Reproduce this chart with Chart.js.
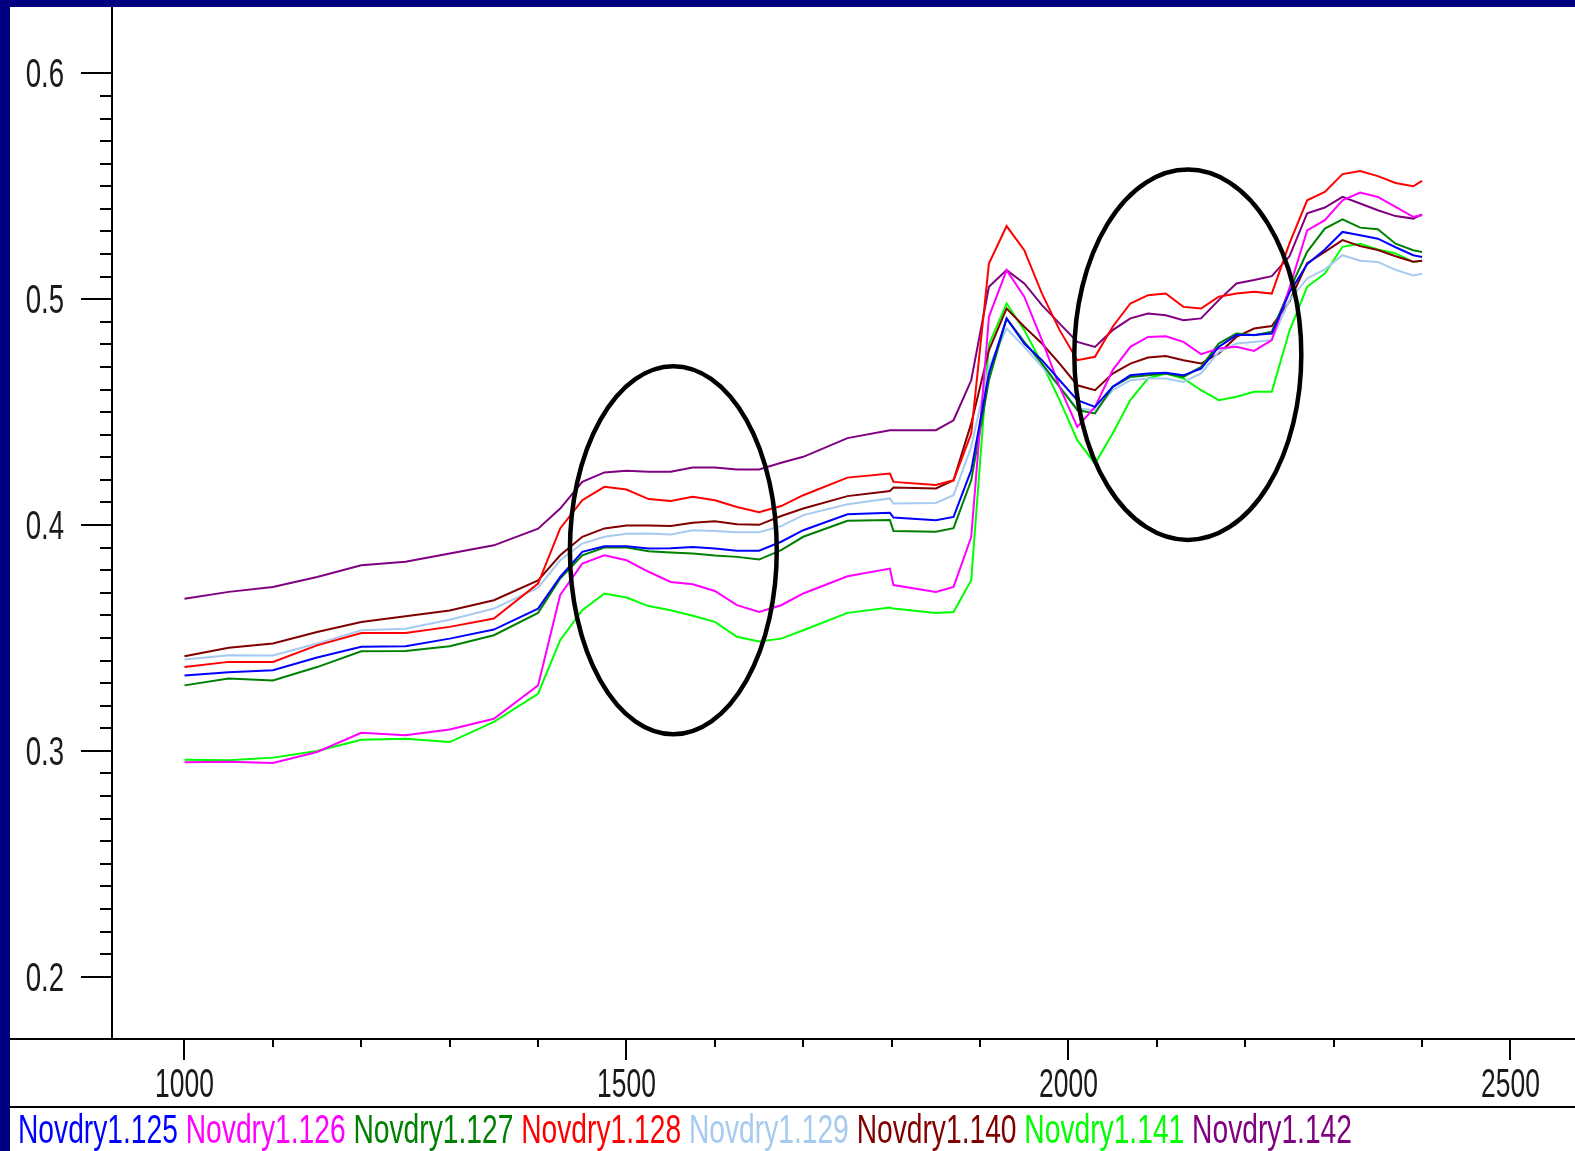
<!DOCTYPE html>
<html>
<head>
<meta charset="utf-8">
<title>Novdry spectra</title>
<script src="https://cdn.jsdelivr.net/npm/chart.js@4.4.1/dist/chart.umd.min.js"></script>
<style>
  html, body { margin: 0; padding: 0; width: 1575px; height: 1151px; overflow: hidden; background: #000080; }
  #wrap { position: absolute; left: 10px; top: 7px; width: 1565px; height: 1144px; background: #ffffff; }
</style>
</head>
<body>
<div id="wrap"><canvas id="chart"></canvas></div>
<script>
// wavelength (nm) shared by every spectrum
var wavelengths = [1000, 1050, 1100, 1150, 1200, 1250, 1300, 1350, 1400, 1425, 1450, 1475, 1500, 1525, 1550, 1575, 1600, 1625, 1650, 1675, 1700, 1750, 1798, 1802, 1850,
    1870, 1890, 1910, 1930, 1950, 1970, 1990, 2010, 2030, 2050, 2070, 2090, 2110, 2130, 2150, 2170, 2190, 2210, 2230, 2250, 2270, 2290, 2310, 2330, 2350, 2370, 2390, 2400];

var novdry125 = [0.3334, 0.3348, 0.3357, 0.3413, 0.3461, 0.3463, 0.3497, 0.3537, 0.3630, 0.3770, 0.3881, 0.3906, 0.3906, 0.3896, 0.3897, 0.3903, 0.3896, 0.3886, 0.3886, 0.3926, 0.3977, 0.4048, 0.4054, 0.4033, 0.4021,
    0.4036, 0.4243, 0.4671, 0.4915, 0.4804, 0.4730, 0.4641, 0.4553, 0.4523, 0.4612, 0.4663, 0.4671, 0.4674, 0.4663, 0.4693, 0.4789, 0.4841, 0.4841, 0.4848, 0.5030, 0.5155, 0.5220, 0.5298, 0.5283, 0.5268, 0.5230, 0.5195, 0.5187];
var novdry126 = [0.2950, 0.2952, 0.2946, 0.2995, 0.3080, 0.3069, 0.3095, 0.3142, 0.3290, 0.3690, 0.3829, 0.3866, 0.3844, 0.3793, 0.3748, 0.3738, 0.3708, 0.3645, 0.3615, 0.3645, 0.3697, 0.3773, 0.3807, 0.3734, 0.3704,
    0.3726, 0.3947, 0.4922, 0.5129, 0.5011, 0.4819, 0.4612, 0.4435, 0.4523, 0.4686, 0.4789, 0.4833, 0.4836, 0.4811, 0.4757, 0.4782, 0.4789, 0.4771, 0.4819, 0.5050, 0.5305, 0.5350, 0.5438, 0.5472, 0.5453, 0.5409, 0.5365, 0.5372];
var novdry127 = [0.3290, 0.3320, 0.3312, 0.3371, 0.3441, 0.3442, 0.3463, 0.3512, 0.3611, 0.3763, 0.3866, 0.3900, 0.3900, 0.3884, 0.3878, 0.3874, 0.3865, 0.3859, 0.3847, 0.3889, 0.3948, 0.4019, 0.4022, 0.3974, 0.3970,
    0.3986, 0.4198, 0.4641, 0.4915, 0.4811, 0.4715, 0.4612, 0.4509, 0.4494, 0.4612, 0.4656, 0.4663, 0.4671, 0.4656, 0.4700, 0.4804, 0.4848, 0.4841, 0.4856, 0.5040, 0.5210, 0.5313, 0.5354, 0.5317, 0.5310, 0.5246, 0.5217, 0.5209];
var novdry128 = [0.3371, 0.3394, 0.3394, 0.3467, 0.3522, 0.3522, 0.3549, 0.3586, 0.3741, 0.3985, 0.4110, 0.4169, 0.4157, 0.4115, 0.4106, 0.4125, 0.4110, 0.4080, 0.4057, 0.4084, 0.4132, 0.4210, 0.4228, 0.4191, 0.4177,
    0.4198, 0.4405, 0.5158, 0.5324, 0.5217, 0.5025, 0.4863, 0.4730, 0.4745, 0.4878, 0.4981, 0.5018, 0.5025, 0.4966, 0.4959, 0.5011, 0.5025, 0.5033, 0.5025, 0.5247, 0.5438, 0.5475, 0.5554, 0.5568, 0.5545, 0.5515, 0.5500, 0.5524];
var novdry129 = [0.3405, 0.3423, 0.3422, 0.3475, 0.3534, 0.3541, 0.3581, 0.3630, 0.3723, 0.3844, 0.3918, 0.3948, 0.3961, 0.3962, 0.3958, 0.3977, 0.3974, 0.3968, 0.3968, 0.3995, 0.4044, 0.4092, 0.4118, 0.4095, 0.4098,
    0.4132, 0.4346, 0.4700, 0.4870, 0.4789, 0.4700, 0.4612, 0.4516, 0.4509, 0.4597, 0.4641, 0.4649, 0.4649, 0.4634, 0.4671, 0.4767, 0.4804, 0.4811, 0.4819, 0.4996, 0.5092, 0.5132, 0.5195, 0.5170, 0.5165, 0.5130, 0.5105, 0.5113];
var novdry140 = [0.3419, 0.3457, 0.3475, 0.3526, 0.3571, 0.3596, 0.3622, 0.3667, 0.3755, 0.3866, 0.3948, 0.3985, 0.3998, 0.3998, 0.3996, 0.4010, 0.4017, 0.4004, 0.4001, 0.4040, 0.4073, 0.4128, 0.4151, 0.4166, 0.4162,
    0.4198, 0.4450, 0.4774, 0.4959, 0.4878, 0.4804, 0.4715, 0.4619, 0.4597, 0.4671, 0.4715, 0.4742, 0.4748, 0.4730, 0.4715, 0.4760, 0.4833, 0.4870, 0.4881, 0.4990, 0.5160, 0.5210, 0.5262, 0.5235, 0.5218, 0.5190, 0.5166, 0.5170];
var novdry141 = [0.2961, 0.2958, 0.2970, 0.2999, 0.3049, 0.3054, 0.3039, 0.3128, 0.3253, 0.3490, 0.3623, 0.3697, 0.3679, 0.3641, 0.3623, 0.3598, 0.3571, 0.3505, 0.3484, 0.3497, 0.3534, 0.3611, 0.3635, 0.3630, 0.3611,
    0.3615, 0.3756, 0.4800, 0.4981, 0.4863, 0.4715, 0.4553, 0.4376, 0.4272, 0.4405, 0.4553, 0.4649, 0.4671, 0.4649, 0.4597, 0.4553, 0.4568, 0.4590, 0.4590, 0.4860, 0.5055, 0.5114, 0.5232, 0.5245, 0.5220, 0.5203, 0.5165, 0.5170];
var novdry142 = [0.3674, 0.3704, 0.3726, 0.3770, 0.3822, 0.3837, 0.3874, 0.3910, 0.3984, 0.4073, 0.4191, 0.4233, 0.4240, 0.4236, 0.4236, 0.4255, 0.4255, 0.4246, 0.4246, 0.4276, 0.4302, 0.4385, 0.4420, 0.4420, 0.4420,
    0.4464, 0.4641, 0.5055, 0.5129, 0.5070, 0.4974, 0.4892, 0.4811, 0.4789, 0.4863, 0.4915, 0.4937, 0.4929, 0.4907, 0.4915, 0.4996, 0.5070, 0.5085, 0.5102, 0.5190, 0.5380, 0.5406, 0.5453, 0.5424, 0.5394, 0.5368, 0.5357, 0.5376];

var seriesLabels = ['Novdry1.125', 'Novdry1.126', 'Novdry1.127', 'Novdry1.128', 'Novdry1.129', 'Novdry1.140', 'Novdry1.141', 'Novdry1.142'];
var seriesValues = [novdry125, novdry126, novdry127, novdry128, novdry129, novdry140, novdry141, novdry142];
var seriesColors = ['#0000ff', '#ff00ff', '#008000', '#ff0000', '#a6caf0', '#800000', '#00ff00', '#800080'];

// tick labels
var xTickLabels = [1000, 1500, 2000, 2500];
var yTickLabels = [0.2, 0.3, 0.4, 0.5, 0.6];

// the two hand-drawn ellipses (centre and half axes in data units)
var marks = [
    { x: 1553, y: 0.3888, rx: 117, ry: 0.0815 },
    { x: 2135, y: 0.4754, rx: 128.4, ry: 0.082 }
];

var FONT = '40px "Liberation Sans", Arial, sans-serif';

// the original text is horizontally condensed
function squeezedText(ctx, text, x, y, align, squeeze) {
    ctx.save();
    ctx.translate(x, y);
    ctx.scale(squeeze, 1);
    ctx.textAlign = align;
    ctx.fillText(text, 0, 0);
    ctx.restore();
}

// draws axes, ticks, labels, legend and ellipses
var decorPlugin = {
    id: 'decor',
    afterDraw: function (chart) {
        var ctx = chart.ctx;
        var area = chart.chartArea;
        var xs = chart.scales.x;
        var ys = chart.scales.y;
        var i, p;

        ctx.save();
        ctx.strokeStyle = '#000';
        ctx.lineWidth = 2;
        ctx.beginPath();
        ctx.moveTo(area.left, 0);
        ctx.lineTo(area.left, area.bottom);
        ctx.moveTo(0, area.bottom);
        ctx.lineTo(chart.width, area.bottom);
        ctx.moveTo(0, 1100);
        ctx.lineTo(chart.width, 1100);

        // y ticks every 0.01, long ones every 0.1
        for (i = 20; i <= 60; i++) {
            p = Math.round(ys.getPixelForValue(i / 100));
            ctx.moveTo(area.left, p);
            ctx.lineTo(area.left - (i % 10 === 0 ? 31 : 12), p);
        }
        // x ticks every 100 nm, long ones every 500
        for (i = 1000; i <= 2500; i += 100) {
            p = Math.round(xs.getPixelForValue(i));
            ctx.moveTo(p, area.bottom);
            ctx.lineTo(p, area.bottom + (i % 500 === 0 ? 21 : 8));
        }
        ctx.stroke();

        ctx.font = FONT;
        ctx.fillStyle = '#1a1a1a';
        ctx.textBaseline = 'alphabetic';
        yTickLabels.forEach(function (v) {
            squeezedText(ctx, v.toFixed(1), 54, ys.getPixelForValue(v) + 14, 'right', 0.69);
        });
        xTickLabels.forEach(function (v) {
            squeezedText(ctx, String(v), xs.getPixelForValue(v), 1090, 'center', 0.66);
        });

        // legend row of coloured names
        var sq = 0.705;
        var lx = 8;
        var gap = ctx.measureText(' ').width * sq;
        chart.data.datasets.forEach(function (ds) {
            ctx.fillStyle = ds.borderColor;
            squeezedText(ctx, ds.label, lx, 1136, 'left', sq);
            lx += ctx.measureText(ds.label).width * sq + gap;
        });

        // ellipses on top of the curves
        ctx.lineWidth = 4.5;
        ctx.strokeStyle = '#000';
        marks.forEach(function (m) {
            var cx = xs.getPixelForValue(m.x);
            var cy = ys.getPixelForValue(m.y);
            var rx = xs.getPixelForValue(m.x + m.rx) - cx;
            var ry = cy - ys.getPixelForValue(m.y + m.ry);
            ctx.beginPath();
            ctx.ellipse(cx, cy, rx, ry, 0, 0, Math.PI * 2);
            ctx.stroke();
        });
        ctx.restore();
    }
};

var datasets = seriesLabels.map(function (label, k) {
    return {
        label: label,
        data: wavelengths.map(function (w, i) { return { x: w, y: seriesValues[k][i] }; }),
        borderColor: seriesColors[k],
        backgroundColor: seriesColors[k],
        borderWidth: 2,
        pointRadius: 0,
        tension: 0,
        fill: false
    };
});

new Chart(document.getElementById('chart').getContext('2d'), {
    type: 'line',
    data: { datasets: datasets },
    options: {
        responsive: true,
        maintainAspectRatio: false,
        animation: false,
        devicePixelRatio: 1,
        layout: { padding: 0 },
        plugins: { legend: { display: false }, tooltip: { enabled: false } },
        scales: {
            x: {
                type: 'linear',
                min: 918,
                max: 2573,
                grid: { display: false },
                border: { display: false },
                ticks: { display: false },
                afterFit: function (scale) { scale.height = 112; }
            },
            y: {
                type: 'linear',
                min: 0.1724,
                max: 0.6294,
                grid: { display: false },
                border: { display: false },
                ticks: { display: false },
                afterFit: function (scale) { scale.width = 102; }
            }
        }
    },
    plugins: [decorPlugin]
});
</script>
</body>
</html>
